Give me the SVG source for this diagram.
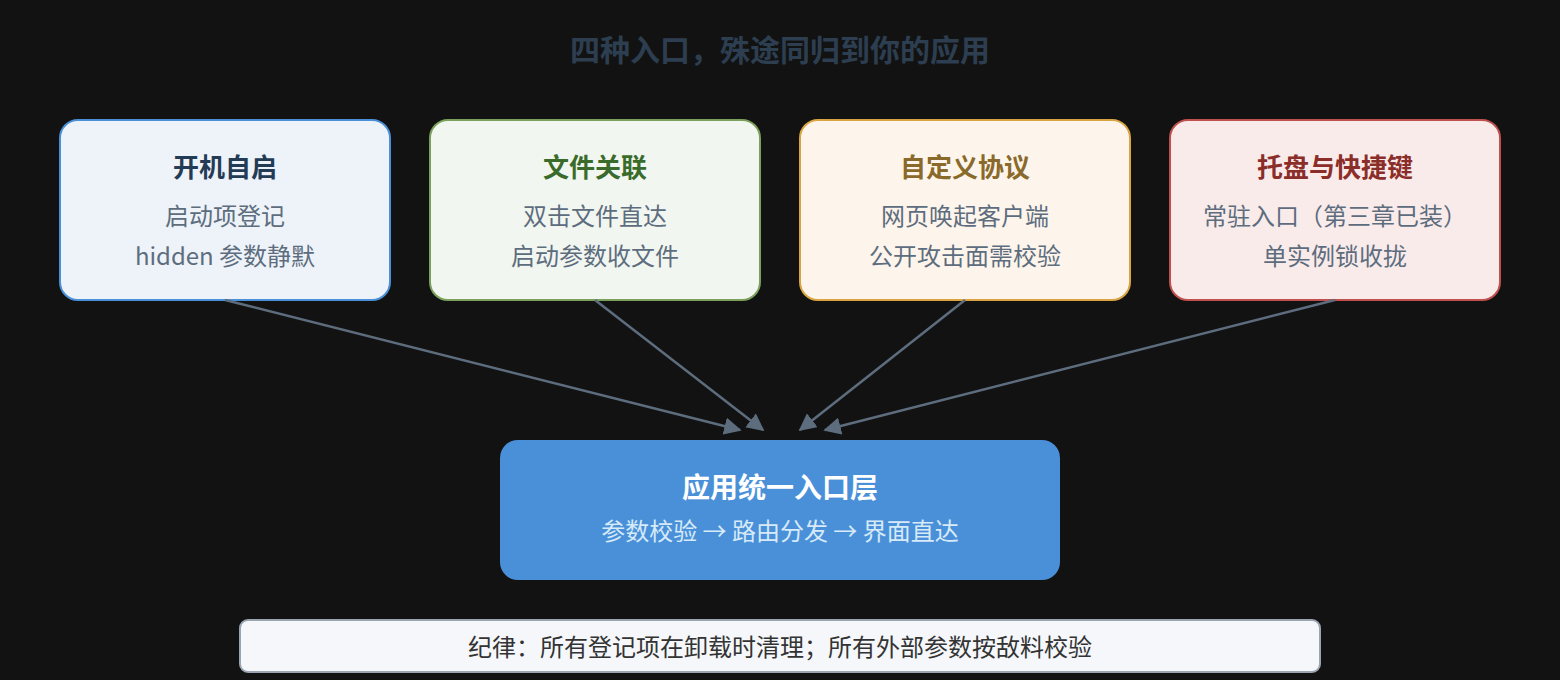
<svg xmlns="http://www.w3.org/2000/svg" width="1560" height="680" viewBox="0 0 1560 680">
<defs>
<style>
text{font-family:"Noto Sans CJK SC","Liberation Sans",sans-serif;text-anchor:middle}
.t{font-size:26px;font-weight:bold}
.s{font-size:24px;fill:#5d6d7e}
.edge{stroke:#5d6d7e;stroke-width:2.5;fill:none;marker-end:url(#ah)}
</style>
<marker id="ah" viewBox="0 0 10 10" refX="9" refY="5" markerWidth="7" markerHeight="7" markerUnits="strokeWidth" orient="auto">
<path d="M0,0 L10,5 L0,10 z" fill="#5d6d7e"/>
</marker>
</defs>
<rect width="1560" height="680" fill="#121212"/>
<text x="780" y="61" font-size="30" font-weight="bold" fill="#2c3e50">四种入口，殊途同归到你的应用</text>
<g id="n1">
<rect x="60" y="120" width="330" height="180" rx="18" fill="#edf3f8" stroke="#4a90d9" stroke-width="2"/>
<text class="t" x="225" y="177" fill="#243b55">开机自启</text>
<text class="s" x="225" y="225">启动项登记</text>
<text class="s" x="225" y="265">hidden 参数静默</text>
</g>
<g id="n2">
<rect x="430" y="120" width="330" height="180" rx="18" fill="#f1f6f0" stroke="#7ba05b" stroke-width="2"/>
<text class="t" x="595" y="177" fill="#3a6b2a">文件关联</text>
<text class="s" x="595" y="225">双击文件直达</text>
<text class="s" x="595" y="265">启动参数收文件</text>
</g>
<g id="n3">
<rect x="800" y="120" width="330" height="180" rx="18" fill="#fdf5ec" stroke="#d9a441" stroke-width="2"/>
<text class="t" x="965" y="177" fill="#8a6a2a">自定义协议</text>
<text class="s" x="965" y="225">网页唤起客户端</text>
<text class="s" x="965" y="265">公开攻击面需校验</text>
</g>
<g id="n4">
<rect x="1170" y="120" width="330" height="180" rx="18" fill="#f9ebea" stroke="#c0504d" stroke-width="2"/>
<text class="t" x="1335" y="177" fill="#8b2e2a">托盘与快捷键</text>
<text class="s" x="1335" y="225">常驻入口（第三章已装）</text>
<text class="s" x="1335" y="265">单实例锁收拢</text>
</g>
<g id="connectors">
<line class="edge" x1="225" y1="300" x2="740" y2="430"/>
<line class="edge" x1="595" y1="300" x2="763" y2="430"/>
<line class="edge" x1="965" y1="300" x2="800" y2="430"/>
<line class="edge" x1="1335" y1="300" x2="825" y2="430"/>
</g>
<g id="center">
<rect x="500" y="440" width="560" height="140" rx="18" fill="#4a90d9"/>
<text x="780" y="498" font-size="28" font-weight="bold" fill="#ffffff">应用统一入口层</text>
<text x="780" y="540" font-size="24" fill="#d6eaf8">参数校验 → 路由分发 → 界面直达</text>
</g>
<g id="rule">
<rect x="240" y="620" width="1080" height="52" rx="8" fill="#f5f7fa" stroke="#9aa5b1" stroke-width="2"/>
<text x="780" y="656" font-size="24" fill="#333333">纪律：所有登记项在卸载时清理；所有外部参数按敌料校验</text>
</g>
</svg>
